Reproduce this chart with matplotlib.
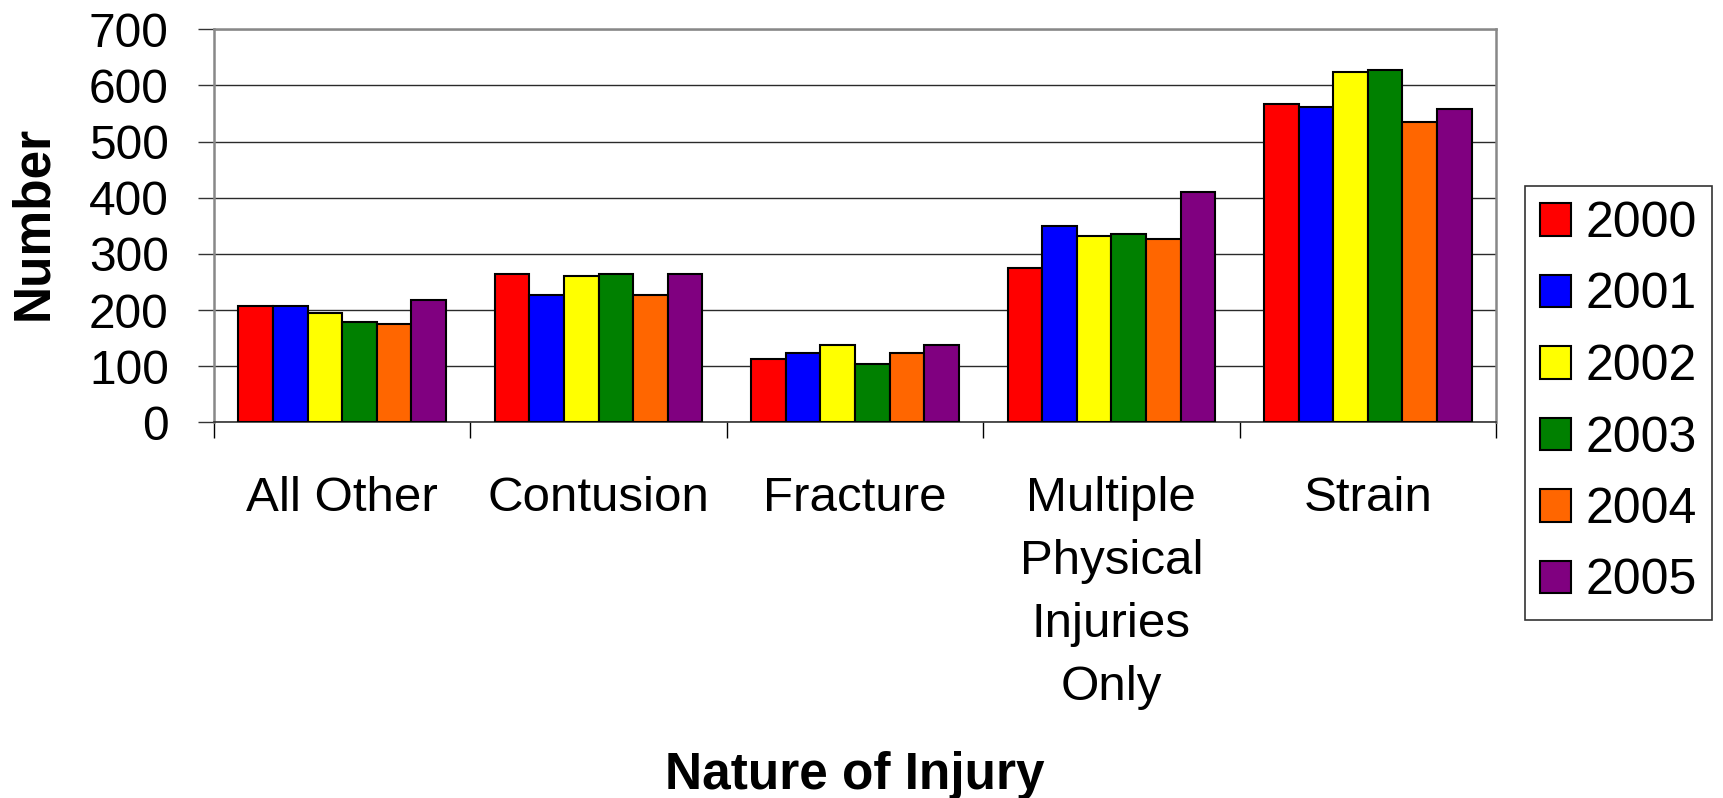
import matplotlib
matplotlib.use("Agg")
import matplotlib.pyplot as plt
import numpy as np

categories = ["All Other", "Contusion", "Fracture", "Multiple\nPhysical\nInjuries\nOnly", "Strain"]
years = ["2000", "2001", "2002", "2003", "2004", "2005"]
values_2000 = [208, 264, 113, 274, 567]
values_2001 = [208, 227, 123, 350, 562]
values_2002 = [194, 260, 137, 331, 624]
values_2003 = [179, 264, 104, 335, 628]
values_2004 = [175, 227, 123, 326, 534]
values_2005 = [217, 264, 137, 411, 558]
series = [values_2000, values_2001, values_2002, values_2003, values_2004, values_2005]
colors = ["#FF0000", "#0000FF", "#FFFF00", "#008000", "#FF6600", "#800080"]
yticks = [0, 100, 200, 300, 400, 500, 600, 700]

plt.rcParams['font.family'] = ['Liberation Sans', 'DejaVu Sans']

W, H = 1723, 798
fig = plt.figure(figsize=(W / 100, H / 100), dpi=100)
ax = fig.add_axes([214 / W, 1 - 422.3 / H, (1496 - 214) / W, (422.3 - 29.3) / H])

n = len(series)
bw = 0.135
x = np.arange(len(categories))
for k, (vals, c, lab) in enumerate(zip(series, colors, years)):
    ax.bar(x + (k - (n - 1) / 2) * bw, vals, width=bw, color=c, edgecolor="black",
           linewidth=1.5, label=lab, zorder=3)

ax.set_xlim(-0.5, len(categories) - 0.5)
ax.set_ylim(0, 700)
ax.set_yticks(yticks)
ax.set_yticklabels([str(v) for v in yticks], fontsize=34.5)
ax.yaxis.grid(True, color="#2a2a2a", linewidth=1.0, zorder=0)
ax.set_axisbelow(True)

ax.set_xticks(np.arange(len(categories) + 1) - 0.5)
ax.set_xticklabels([])
ax.set_xticks(x, minor=True)
ax.set_xticklabels(categories, minor=True, fontsize=35.5, linespacing=1.51, va="top")
ax.tick_params(axis="x", which="major", length=16 * 0.72, width=1.0, color="black", direction="out")
ax.tick_params(axis="x", which="minor", length=0, pad=39)
ax.tick_params(axis="y", length=16 * 0.72, width=1.0, color="#333333", pad=21)

for s in ["top", "right", "left"]:
    ax.spines[s].set_color("#888888")
    ax.spines[s].set_linewidth(1.8)
ax.spines["bottom"].set_color("#333333")
ax.spines["bottom"].set_linewidth(1.2)

fig.text(47 / W, 1 - 223 / H, "Number", rotation=90, rotation_mode="anchor",
         ha="center", va="baseline", fontsize=37, fontweight="bold")
fig.text(855 / W, 1 - 789 / H, "Nature of Injury", ha="center", va="baseline",
         fontsize=37, fontweight="bold")

leg = fig.legend(loc="upper left", bbox_to_anchor=(1525 / W, 1 - 186 / H), fontsize=36,
                 frameon=True, fancybox=False, edgecolor="black", borderpad=0.3,
                 labelspacing=0.51, handlelength=0.62, handleheight=0.62,
                 handletextpad=0.3, borderaxespad=0)
leg.get_frame().set_linewidth(1.2)
for p in leg.get_patches():
    p.set_linewidth(1.5)

fig.savefig("out.png", dpi=100)
